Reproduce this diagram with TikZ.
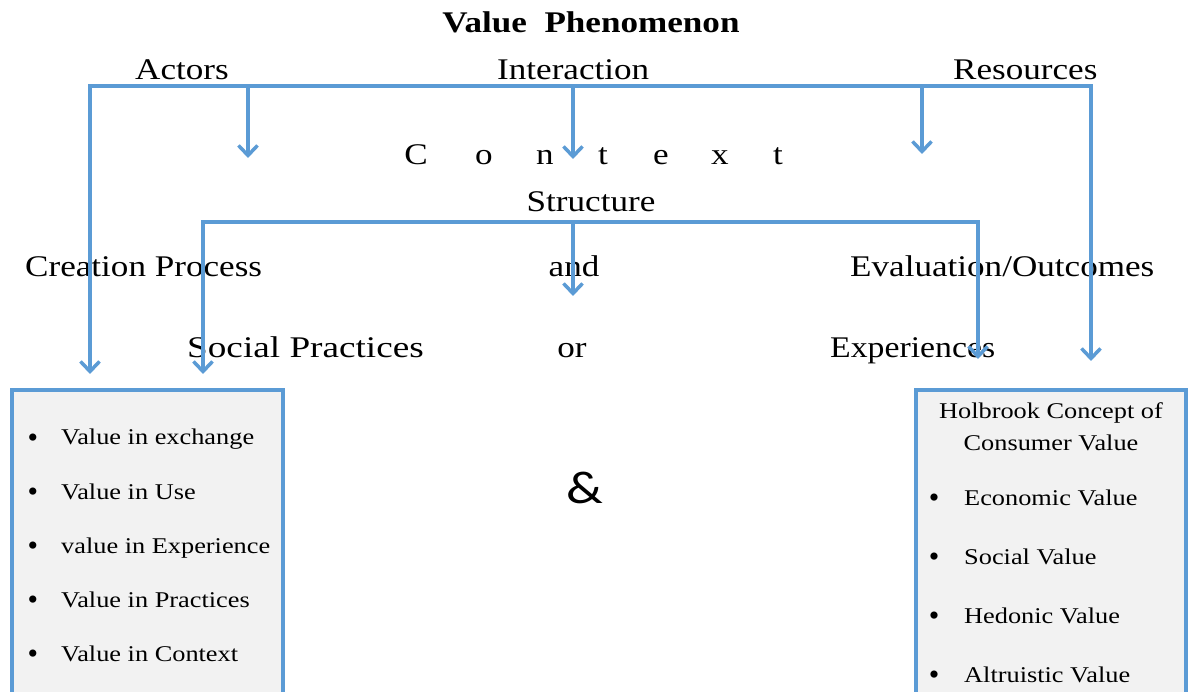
\documentclass[tikz,border=0pt]{standalone}
\usepackage{fontspec}
\usepackage{graphicx}
\setmainfont{Liberation Serif}
\newfontfamily\ampfont{Carlito}
\usetikzlibrary{arrows.meta}
\definecolor{lineblue}{HTML}{5B9BD5}
\definecolor{boxgray}{HTML}{F2F2F2}
\newcommand{\sx}[2][1.17]{\scalebox{#1}[1]{#2}}
\tikzset{
  big/.style={inner sep=0pt, font=\fontsize{30}{36}\selectfont},
  small/.style={inner sep=0pt, font=\fontsize{22.5}{27}\selectfont},
  bul/.style={inner sep=0pt, font=\fontsize{30}{36}\selectfont},
  conn/.style={draw=lineblue, line width=3.5pt},
  bar/.style={conn, line cap=rect},
  arr/.style={conn, -{Straight Barb[length=10pt,width=19pt]}},
  valbox/.style={draw=lineblue, line width=3.5pt, fill=boxgray}
}
\begin{document}
\begin{tikzpicture}[x=1pt,y=-1pt]
\useasboundingbox (0,0) rectangle (1189,692);
\clip (0,0) rectangle (1189,692);
\fill[white] (0,0) rectangle (1189,692);

% boxes
\draw[valbox] (12,390) rectangle (283,730);
\draw[valbox] (916,390) rectangle (1186,730);

% texts
\node[big, font=\fontsize{30}{36}\selectfont\bfseries, anchor=base] (title) at (591,33) {\sx{Value\ \ Phenomenon}};
\node[big, anchor=base west] (actors) at (135,80) {\sx{Actors}};
\node[big, anchor=base west] (inter) at (497,80) {\sx{Interaction}};
\node[big, anchor=base west] (res) at (953,80) {\sx{Resources}};

\foreach \l/\xx [count=\i] in {C/416,o/484,n/545,t/603,e/661,x/720,t/778}
  \node[big, anchor=base] (ctx\i) at (\xx,165) {\sx{\l}};

\node[big, anchor=base] (struct) at (591,212) {\sx{Structure}};
\node[big, anchor=base west] (creation) at (25,277) {\sx{Creation Process}};
\node[big, anchor=base] (and) at (574,277) {\sx{and}};
\node[big, anchor=base west] (eval) at (850,277) {\sx{Evaluation/Outcomes}};
\node[big, anchor=base west] (social) at (187,358) {\sx[1.24]{Social Practices}};
\node[big, anchor=base] (or) at (572,358) {\sx{or}};
\node[big, anchor=base west] (exper) at (830,358) {\sx[1.125]{Experiences}};

\node[inner sep=0pt, font=\ampfont\fontsize{46}{50}\selectfont, anchor=base] (amp) at (585,503) {\sx{\&}};

% left box items
\foreach \t/\yy [count=\i] in {Value in exchange/445,Value in Use/499,value in Experience/553,Value in Practices/607,Value in Context/661}{
  \node[bul, anchor=base] (lb\i) at (33,\yy+2) {•};
  \node[small, anchor=base west] (lt\i) at (61,\yy) {\sx{\t}};
}

% right box
\node[small, anchor=base] (hol1) at (1051,419) {\sx{Holbrook Concept of}};
\node[small, anchor=base] (hol2) at (1051,450) {\sx{Consumer Value}};
\foreach \t/\yy [count=\i] in {Economic Value/505,Social Value/564,Hedonic Value/623,Altruistic Value/682}{
  \node[bul, anchor=base] (rb\i) at (934,\yy+2) {•};
  \node[small, anchor=base west] (rt\i) at (964,\yy) {\sx{\t}};
}

% connector coordinates
\coordinate (t1) at (90,86);
\coordinate (t2) at (248,86);
\coordinate (t3) at (573,86);
\coordinate (t4) at (922,86);
\coordinate (t5) at (1091,86);
\coordinate (e1) at (90,374);
\coordinate (e2) at (248,158);
\coordinate (e3) at (573,159);
\coordinate (e4) at (922,154);
\coordinate (e5) at (1091,361);
\coordinate (s1) at (203,222);
\coordinate (s2) at (573,222);
\coordinate (s3) at (978,222);
\coordinate (f1) at (203,374);
\coordinate (f2) at (573,296);
\coordinate (f3) at (978,359);

% connectors
\draw[bar] (t1) -- (t5);
\draw[arr] (t1) -- (e1);
\draw[arr] (t2) -- (e2);
\draw[arr] (t3) -- (e3);
\draw[arr] (t4) -- (e4);
\draw[arr] (t5) -- (e5);
\draw[bar] (s1) -- (s3);
\draw[arr] (s1) -- (f1);
\draw[arr] (s2) -- (f2);
\draw[arr] (s3) -- (f3);
\end{tikzpicture}
\end{document}
